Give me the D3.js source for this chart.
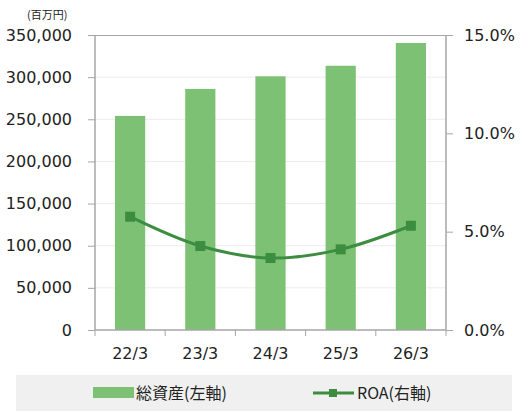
<!DOCTYPE html>
<html><head><meta charset="utf-8">
<script src="https://cdn.jsdelivr.net/npm/d3@7"></script>
<style>
body{margin:0;background:#fff;}
svg{display:block;font-family:"DejaVu Sans",Verdana,sans-serif;}
</style></head>
<body><svg id="c" width="528" height="412"></svg>
<script>
const categories = ["22/3","23/3","24/3","25/3","26/3"];
const totalAssets = [254000, 286000, 301000, 313500, 340500];
const roa = [5.76, 4.27, 3.66, 4.10, 5.30];
const leftTicks = [0,50000,100000,150000,200000,250000,300000,350000];
const rightTicks = [0,5,10,15];
const unitLabel = "(百万円)";
const seriesNames = ["総資産(左軸)", "ROA(右軸)"];

const svg = d3.select("#c");
const L = 95, R = 446, T = 35, B = 330;
const barColor = "#7cc174", lineColor = "#3d8d41", axisColor = "#a6a6a6";

const x = d3.scaleBand().domain(categories).range([L, R]).paddingInner(0.57).paddingOuter(0.285);
const xb = d3.scaleBand().domain(categories).range([L, R]);
const yL = d3.scaleLinear().domain([0, 350000]).range([B, T]);
const yR = d3.scaleLinear().domain([0, 15]).range([B, T]);

// gridlines
svg.append("g").selectAll("line").data(leftTicks.filter(d => d > 0 && d < 350000)).join("line")
  .attr("x1", L).attr("x2", R).attr("y1", d => yL(d)).attr("y2", d => yL(d))
  .attr("stroke", "#ececec").attr("stroke-width", 1);

// bars
svg.append("g").selectAll("rect").data(totalAssets).join("rect")
  .attr("x", (d, i) => x(categories[i])).attr("width", x.bandwidth())
  .attr("y", d => yL(d)).attr("height", d => B - yL(d))
  .attr("fill", barColor);

// top border
svg.append("line").attr("x1", L).attr("x2", R).attr("y1", T + 0.5).attr("y2", T + 0.5)
  .attr("stroke", axisColor).attr("stroke-width", 1.2);

// left axis
const gl = svg.append("g").attr("transform", `translate(${L},0)`)
  .call(d3.axisLeft(yL).tickValues(leftTicks).tickFormat(d3.format(",")).tickSize(7).tickPadding(16));
// right axis
const gr = svg.append("g").attr("transform", `translate(${R},0)`)
  .call(d3.axisRight(yR).tickValues(rightTicks).tickFormat(d => d3.format(".1f")(d) + "%").tickSize(7).tickPadding(11));
// bottom axis
const gb = svg.append("g").attr("transform", `translate(0,${B})`)
  .call(d3.axisBottom(xb).tickSize(0).tickPadding(18));
gb.selectAll(".tick").append("line")
  .attr("x1", -xb.bandwidth()/2).attr("x2", -xb.bandwidth()/2).attr("y1", 0).attr("y2", 6)
  .attr("stroke", axisColor);
gb.append("line").attr("x1", R).attr("x2", R).attr("y1", 0).attr("y2", 6).attr("stroke", axisColor);

[gl, gr, gb].forEach(g => {
  g.select(".domain").attr("stroke", axisColor).attr("stroke-width", 1.5);
  g.selectAll(".tick line").attr("stroke", axisColor);
  g.selectAll("text").attr("fill", "#222").style("font-size", "16px").style("font-family", '"DejaVu Sans",Verdana,sans-serif');
});
gl.select(".domain").attr("d", `M0,${T}V${B}`);
gr.select(".domain").attr("d", `M0,${T}V${B}`);
gb.select(".domain").attr("d", `M${L},0H${R}`);

// ROA line
const line = d3.line().x((d, i) => x(categories[i]) + x.bandwidth()/2).y(d => yR(d)).curve(d3.curveCatmullRom.alpha(0.5));
svg.append("path").datum(roa).attr("d", line).attr("fill", "none")
  .attr("stroke", lineColor).attr("stroke-width", 3);
svg.append("g").selectAll("rect").data(roa).join("rect")
  .attr("x", (d, i) => x(categories[i]) + x.bandwidth()/2 - 5).attr("y", d => yR(d) - 5)
  .attr("width", 10).attr("height", 10).attr("fill", lineColor);

// unit label
svg.append("text").attr("x", 27).attr("y", 19).text(unitLabel)
  .style("font-family", '"Noto Sans CJK JP",sans-serif').style("font-size", "11px").attr("fill", "#222");

// legend
svg.append("rect").attr("x", 16).attr("y", 375).attr("width", 496).attr("height", 36).attr("fill", "#f0f0f0");
svg.append("rect").attr("x", 93).attr("y", 387).attr("width", 41).attr("height", 11).attr("fill", barColor);
svg.append("text").attr("x", 136).attr("y", 399).text(seriesNames[0])
  .style("font-family", '"Noto Sans CJK JP",sans-serif').style("font-size", "16px").attr("fill", "#222");
svg.append("line").attr("x1", 313).attr("x2", 354).attr("y1", 393).attr("y2", 393)
  .attr("stroke", lineColor).attr("stroke-width", 3);
svg.append("rect").attr("x", 329).attr("y", 389).attr("width", 8).attr("height", 8).attr("fill", lineColor);
svg.append("text").attr("x", 357).attr("y", 399).text(seriesNames[1])
  .style("font-family", '"Noto Sans CJK JP",sans-serif').style("font-size", "16px").attr("fill", "#222");
</script></body></html>
